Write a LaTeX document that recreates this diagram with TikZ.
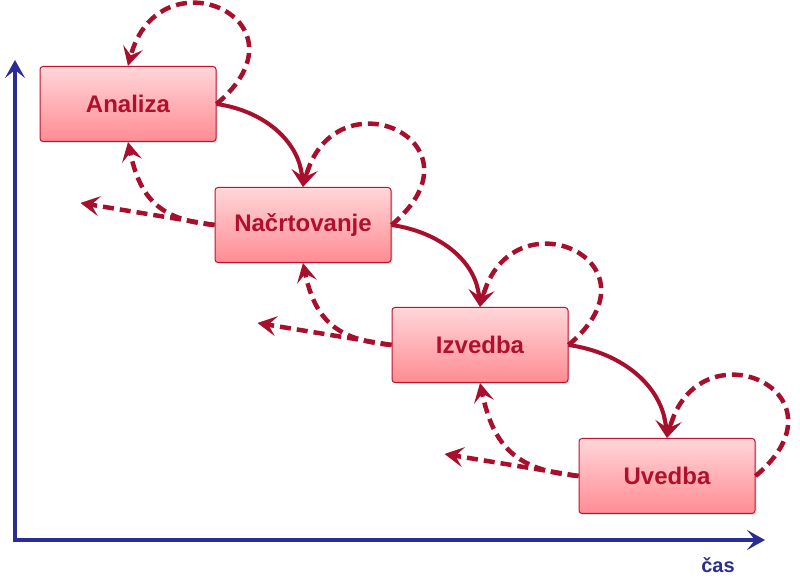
\documentclass[tikz,border=0pt]{standalone}
\usepackage{fontspec}
\setmainfont{Liberation Sans}
\usetikzlibrary{arrows.meta,shadows}
\definecolor{BoxRed}{HTML}{C1122F}
\definecolor{TextRed}{HTML}{B0102C}
\definecolor{ArrowRed}{HTML}{A80F2C}
\definecolor{BoxTop}{HTML}{FFD6D9}
\definecolor{BoxBottom}{HTML}{FF8C93}
\definecolor{AxisBlue}{HTML}{2B2D96}

\begin{document}
\begin{tikzpicture}[x=1pt, y=1pt,
  phasebox/.style={rectangle, rounded corners=3pt, draw=BoxRed, line width=1pt,
    top color=BoxTop, bottom color=BoxBottom, minimum width=176pt, minimum height=75pt,
    font=\fontsize{24}{28}\selectfont\bfseries, text=TextRed,
    drop shadow={opacity=0.25, shadow xshift=1.5pt, shadow yshift=-1.5pt}},
  redtip/.style={-{Stealth[length=19pt, width=20pt, inset=8pt]}},
  fwdarr/.style={redtip, draw=ArrowRed, line width=4pt},
  backarr/.style={redtip, draw=ArrowRed, line width=4.5pt, dash pattern=on 11pt off 6pt},
  selfloop/.style={backarr}]
\useasboundingbox (0,0) rectangle (800,580);

% time axes
\coordinate (origin) at (15,40);
\coordinate (ytop) at (15,520);
\coordinate (xend) at (765,40);
\draw[AxisBlue, line width=4.5pt, {Stealth[length=18pt, width=20pt, inset=8pt]}-{Stealth[length=18pt, width=20pt, inset=8pt]}]
  (ytop) -- (origin) -- (xend);
\node[text=AxisBlue, font=\fontsize{20}{24}\selectfont\bfseries] (cas) at (718,15) {čas};

% phases
\node[phasebox] (ana) at (128,476) {Analiza};
\node[phasebox] (nac) at (303,355) {Načrtovanje};
\node[phasebox] (izv) at (480,235) {Izvedba};
\node[phasebox] (uve) at (667,104) {Uvedba};

% free ends of the back arrows
\coordinate (nacback) at ([shift={(-134,22)}]nac.west);
\coordinate (izvback) at ([shift={(-134,22)}]izv.west);
\coordinate (uveback) at ([shift={(-134,22)}]uve.west);

% forward flow
\draw[fwdarr] (ana.east) to[out=-8, in=95] (nac.north);
\draw[fwdarr] (nac.east) to[out=-8, in=95] (izv.north);
\draw[fwdarr] (izv.east) to[out=-8, in=95] (uve.north);

% iterations within a phase
\draw[selfloop] (ana.east) .. controls +(40:130) and +(75:120) .. (ana.north);
\draw[selfloop] (nac.east) .. controls +(40:130) and +(75:120) .. (nac.north);
\draw[selfloop] (izv.east) .. controls +(40:130) and +(75:120) .. (izv.north);
\draw[selfloop] (uve.east) .. controls +(40:130) and +(75:120) .. (uve.north);

% going back
\draw[backarr] (nac.west) to[out=175, in=-78, looseness=1.2] (ana.south);
\draw[backarr] (izv.west) to[out=175, in=-78, looseness=1.2] (nac.south);
\draw[backarr] (uve.west) to[out=175, in=-78, looseness=1.2] (izv.south);
\draw[backarr] (nac.west) -- (nacback);
\draw[backarr] (izv.west) -- (izvback);
\draw[backarr] (uve.west) -- (uveback);
\end{tikzpicture}
\end{document}
